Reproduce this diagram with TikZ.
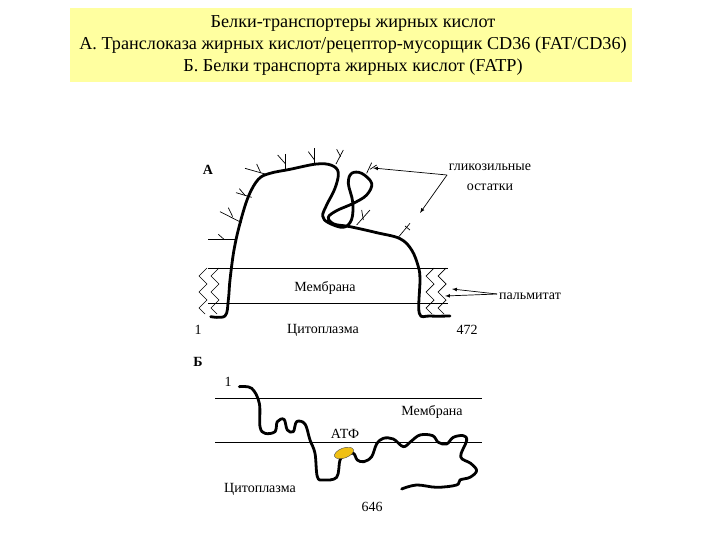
\documentclass[tikz,border=0pt]{standalone}
\usepackage{fontspec}
\setmainfont{Liberation Serif}
\usetikzlibrary{shapes.geometric}
\begin{document}
\begin{tikzpicture}[x=1pt,y=-1pt,
  lbl/.style={inner sep=0pt,font=\fontsize{14}{16}\selectfont},
  prot/.style={line width=2.8pt,line cap=round,line join=round},
  thin/.style={line width=0.7pt},
  br/.style={line width=0.7pt}]
\useasboundingbox (0,0) rectangle (720,540);
\node[fill={rgb,255:red,255;green,255;blue,160},minimum width=562,minimum height=74,inner sep=0pt,anchor=north west] (hdr) at (70,8) {};
\node[lbl,font=\fontsize{18.2}{19}\selectfont,align=center] (title) at (353,45) {Белки-транспортеры жирных кислот\\[3pt]А. Транслоказа жирных кислот/рецептор-мусорщик CD36 (FAT/CD36)\\[3pt]Б. Белки транспорта жирных кислот (FATP)};
% Part A
\draw[thin] (208,268) -- (448,268);
\draw[thin] (208,303) -- (448,303);
\foreach \x in {203,215,430,442}{
 \draw[thin] (\x+4,268) -- (\x-4,276) -- (\x+4,284) -- (\x-4,292) -- (\x+4,300) -- (\x-4,308) -- (\x+2,314);}
\begin{scope}[shift={(190,140)},x=0.3333pt,y=-0.3333pt]
\draw[prot] plot[smooth,tension=0.6] coordinates{(62,530) (105,528) (115,480) (120,420) (132,330) (150,250) (175,170) (205,118) (240,100) (300,88) (380,72) (425,76) (445,98) (435,145) (410,195) (398,228) (415,248) (460,262) (485,238) (488,185) (475,130) (485,100) (515,100) (545,130) (530,165) (490,190) (440,212) (415,232) (432,252) (480,260) (560,278) (630,296) (665,330) (685,380) (690,420) (688,520) (720,528) (780,528)};
\foreach \a/\b/\c/\d in {55/298/140/298, 90/215/155/248, 138/158/185/172, 165/85/225/102, 285/42/285/90, 372/25/372/72, 460/30/438/72, 545/68/530/100, 540/210/500/255, 660/250/625/292}{
 \draw[br] (\a,\b) -- (\c,\d);}
\foreach \a/\b/\c/\d in {85/283/102/298, 115/203/128/230, 148/146/165/166, 200/72/212/98, 263/45/285/70, 355/35/372/58, 440/28/452/50, 560/75/540/88, 515/210/520/240, 645/258/660/270}{
 \draw[br] (\a,\b) -- (\c,\d);}
\end{scope}
\node[lbl,font=\fontsize{14}{16}\selectfont\bfseries] (A) at (208,170) {А};
\node[lbl,align=center] (glyc) at (490,177) {гликозильные\\[4pt]остатки};
\coordinate (g0) at (447,175);
\coordinate (g1) at (373,168);
\coordinate (g2) at (420,213);
\draw[thin,-latex] (g0) -- (g1);
\draw[thin,-latex] (g0) -- (g2);
\node[lbl] (palm) at (530,296) {пальмитат};
\coordinate (p0) at (497,294);
\coordinate (p1) at (452,289);
\coordinate (p2) at (445,296);
\draw[thin,-latex] (p0) -- (p1);
\draw[thin,-latex] (p0) -- (p2);
\node[lbl] (memA) at (325,288) {Мембрана};
\node[lbl] (oneA) at (198,330) {1};
\node[lbl] (cytA) at (323,330) {Цитоплазма};
\node[lbl] (n472) at (467,330) {472};
% Part B
\draw[thin] (215,398) -- (482,398);
\draw[thin] (215,442) -- (482,442);
\begin{scope}[shift={(190,350)},x=0.3333pt,y=-0.3333pt]
\draw[prot] plot[smooth,tension=0.6] coordinates{(148,110) (185,115) (208,160) (210,230) (225,250) (255,245) (262,215) (282,208) (292,240) (310,245) (320,215) (345,222) (360,270) (375,310) (382,380) (400,390) (440,382) (450,330) (465,318) (490,310) (502,330) (522,335) (545,320) (560,282) (580,265) (610,267) (640,290) (662,275) (690,255) (728,257) (745,277) (770,282) (790,262) (820,257) (830,272) (812,320) (842,340) (860,362) (840,382) (810,390) (800,405) (740,412) (680,405) (635,417)};
\end{scope}
\node[draw=black!70,fill={rgb,255:red,240;green,192;blue,20},ellipse,minimum width=20,minimum height=10,inner sep=0pt,rotate=20] (atp) at (344,453) {};
\node[lbl,font=\fontsize{14}{16}\selectfont\bfseries] (B) at (198,362) {Б};
\node[lbl] (oneB) at (228,382) {1};
\node[lbl] (memB) at (432,412) {Мембрана};
\node[lbl] (atpl) at (345,434) {АТФ};
\node[lbl] (cytB) at (260,489) {Цитоплазма};
\node[lbl] (n646) at (372,507) {646};
\end{tikzpicture}
\end{document}
